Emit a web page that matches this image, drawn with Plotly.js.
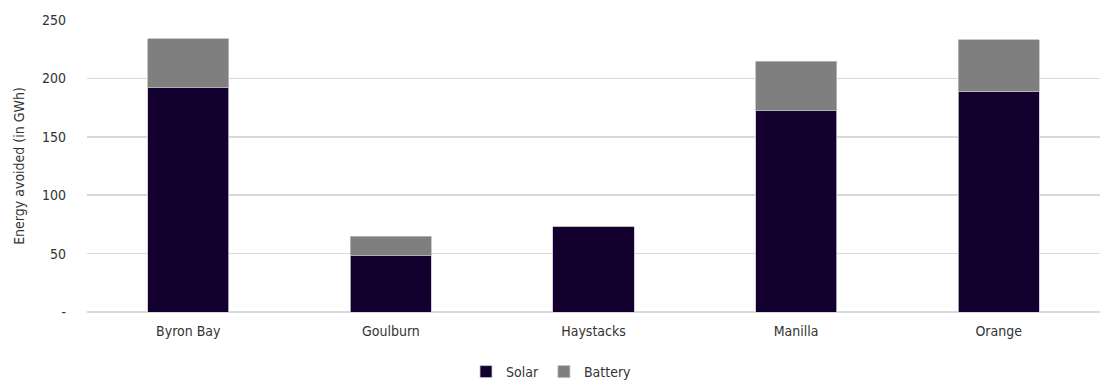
<!DOCTYPE html>
<html>
<head>
<meta charset="utf-8">
<script src="https://cdn.plot.ly/plotly-3.0.1.min.js"></script>
<style>html,body{margin:0;padding:0;background:#fff;}#chart{width:1103px;height:388px;}</style>
</head>
<body>
<div id="chart"></div>
<script>
const categories = ["Byron Bay", "Goulburn", "Haystacks", "Manilla", "Orange"];
const solar = [192, 48, 73, 172.5, 189];
const battery = [42, 17, 0, 42, 44];
const yTickVals = [0, 50, 100, 150, 200, 250];
const yTickText = ["-", "50", "100", "150", "200", "250"];

const font = {family: "'Liberation Sans Narrow', 'DejaVu Sans Condensed', 'Arial Narrow', sans-serif", size: 14, color: "#333333"};

const traces = [
  {type: "bar", name: "Solar", x: categories, y: solar,
   marker: {color: "#14002F", line: {color: "#c9c3d6", width: 0.8}}},
  {type: "bar", name: "Battery", x: categories, y: battery,
   marker: {color: "#7F7F7F", line: {color: "#bdbdbd", width: 0.8}}}
];

const layout = {
  width: 1103, height: 388,
  margin: {l: 87, r: 3, t: 20, b: 75.5, autoexpand: false},
  barmode: "stack",
  bargap: 0.6,
  font: font,
  paper_bgcolor: "#fff", plot_bgcolor: "#fff",
  showlegend: true,
  legend: {orientation: "h", x: 0.5, xref: "container", xanchor: "center", y: -0.012, yref: "container", yanchor: "bottom",
           font: font, traceorder: "normal", itemwidth: 30, tracegroupgap: 0},
  xaxis: {type: "category", showgrid: false, zeroline: false, showline: false, ticks: "", tickfont: font, ticklabelstandoff: 9, automargin: false},
  yaxis: {range: [0, 250], tickvals: yTickVals, ticktext: yTickText, showgrid: true, gridcolor: "#D9D9D9", gridwidth: 1.5,
          zeroline: true, zerolinecolor: "#D9D9D9", zerolinewidth: 1.5, showline: false, ticks: "", ticklen: 0, automargin: false,
          tickfont: font, ticklabelstandoff: 20, title: {text: "Energy avoided (in GWh)", font: font, standoff: 14}}
};

Plotly.newPlot("chart", traces, layout, {displayModeBar: false, staticPlot: true});
</script>
</body>
</html>
